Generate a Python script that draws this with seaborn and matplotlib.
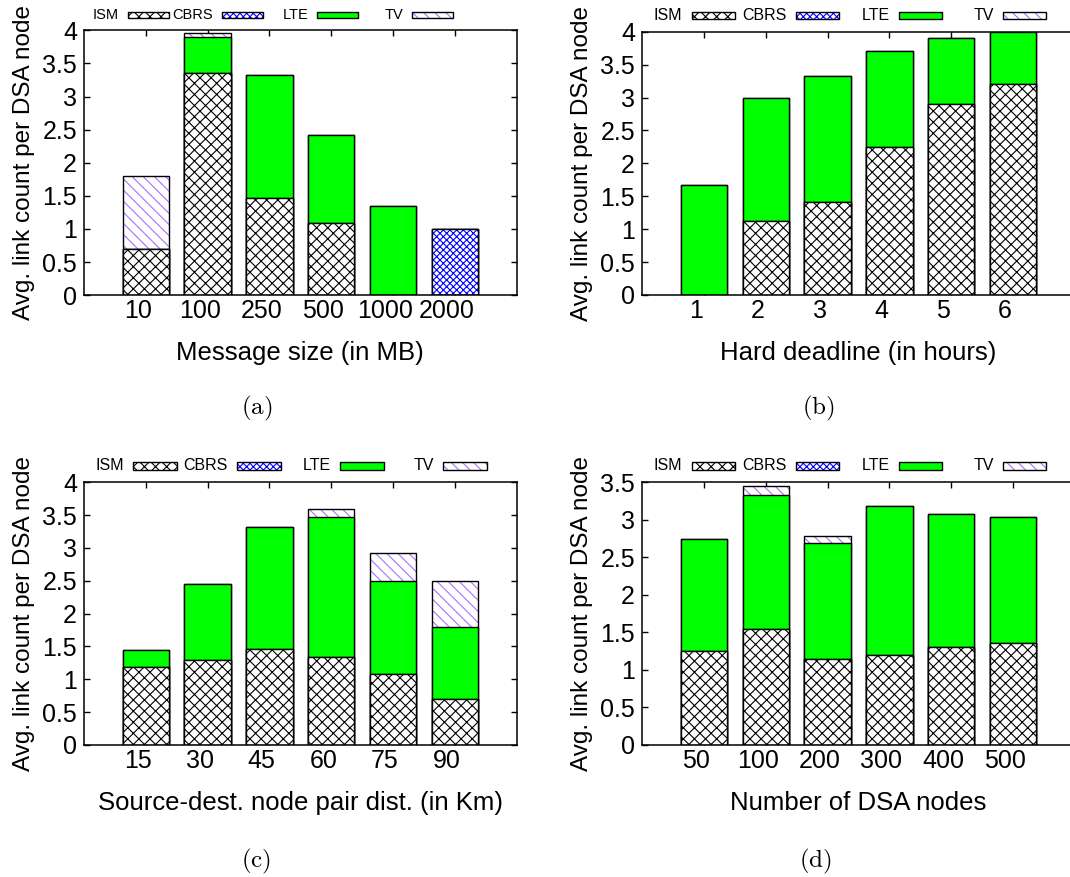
import numpy as np
import pandas as pd
import matplotlib
matplotlib.use("Agg")
import matplotlib.pyplot as plt
import matplotlib.transforms as mtransforms
from matplotlib.patches import Rectangle
from matplotlib.ticker import MultipleLocator, FormatStrFormatter
import seaborn as sns

# ---------------- data ----------------
series_names = ["ISM", "CBRS", "LTE", "TV"]

a_cats = ["10", "100", "250", "500", "1000", "2000"]
a_ism = [0.70, 3.35, 1.47, 1.09, 0.00, 0.00]
a_cbrs = [0.00, 0.00, 0.00, 0.00, 0.00, 1.00]
a_lte = [0.00, 0.55, 1.85, 1.33, 1.34, 0.00]
a_tv = [1.10, 0.06, 0.00, 0.00, 0.00, 0.00]

b_cats = ["1", "2", "3", "4", "5", "6"]
b_ism = [0.00, 1.12, 1.42, 2.25, 2.90, 3.20]
b_cbrs = [0.00, 0.00, 0.00, 0.00, 0.00, 0.00]
b_lte = [1.67, 1.88, 1.90, 1.46, 1.00, 0.80]
b_tv = [0.00, 0.00, 0.00, 0.00, 0.00, 0.00]

c_cats = ["15", "30", "45", "60", "75", "90"]
c_ism = [1.19, 1.29, 1.465, 1.34, 1.075, 0.695]
c_cbrs = [0.00, 0.00, 0.00, 0.00, 0.00, 0.00]
c_lte = [0.255, 1.16, 1.855, 2.13, 1.42, 1.095]
c_tv = [0.00, 0.00, 0.00, 0.12, 0.425, 0.705]

d_cats = ["50", "100", "200", "300", "400", "500"]
d_ism = [1.25, 1.55, 1.15, 1.195, 1.30, 1.36]
d_cbrs = [0.00, 0.00, 0.00, 0.00, 0.00, 0.00]
d_lte = [1.50, 1.78, 1.54, 1.985, 1.78, 1.68]
d_tv = [0.00, 0.12, 0.10, 0.00, 0.00, 0.00]

xlabels = ["Message size (in MB)", "Hard deadline (in hours)",
           "Source-dest. node pair dist. (in Km)", "Number of DSA nodes"]
ylabel = "Avg. link count per DSA node"
captions = ["(a)", "(b)", "(c)", "(d)"]
ymaxes = [4.0, 4.0, 4.0, 3.5]

# ---------------- style ----------------
sns.set_theme(style="ticks")
plt.rcParams["font.family"] = ["Liberation Sans", "DejaVu Sans"]
plt.rcParams["mathtext.fontset"] = "cm"
plt.rcParams["hatch.linewidth"] = 0.8
plt.rcParams["text.color"] = "black"
plt.rcParams["axes.labelcolor"] = "black"

GREEN = "#00ff00"
BLUE = "#0000ff"
PURPLE = "#a970ff"
styles = {
    "ISM": dict(face="white", hatch="xxx", hcolor="black"),
    "CBRS": dict(face="white", hatch="xxxxx", hcolor=BLUE),
    "LTE": dict(face=GREEN, hatch=None, hcolor="black"),
    "TV": dict(face="white", hatch="\\\\\\", hcolor=PURPLE),
}

W, H = 1070, 877
fig = plt.figure(figsize=(W / 100, H / 100), dpi=100)

def add_axes_px(l, t, r, b):
    return fig.add_axes([l / W, 1 - b / H, (r - l) / W, (b - t) / H])

axes_px = [(84, 30.3, 516.7, 295.2), (642, 31.7, 1075, 295.0),
           (84, 482.3, 516.7, 745.0), (642, 482.3, 1075, 745.0)]
show_right = [True, False, True, False]
# legend layout per panel: swatch right edges (px from axes left), width, height, gap above axes, font
legend_px = [
    dict(rights=[85, 179, 274, 369], w=41, h=6.7, gap=12.0, fs=10.5),
    dict(rights=[93, 197, 300, 404], w=43.5, h=7.7, gap=12.4, fs=11.5),
    dict(rights=[93, 197, 300, 403], w=44, h=8.0, gap=12.3, fs=11.5),
    dict(rights=[93, 197, 300, 404], w=43.5, h=8.0, gap=12.3, fs=11.5),
]
caption_px = [(257, 408), (818, 408), (256, 861), (815, 861)]

panels = [
    (a_cats, a_ism, a_cbrs, a_lte, a_tv),
    (b_cats, b_ism, b_cbrs, b_lte, b_tv),
    (c_cats, c_ism, c_cbrs, c_lte, c_tv),
    (d_cats, d_ism, d_cbrs, d_lte, d_tv),
]

BAR_W = 0.75
EDGE_LW = 1.0

def draw_layer(ax, cats, vals, st):
    df = pd.DataFrame({"cat": cats, "val": vals})
    if st["hatch"] is not None and st["hcolor"] != "black":
        sns.barplot(data=df, x="cat", y="val", order=cats, ax=ax, width=BAR_W,
                    errorbar=None, facecolor=st["face"], edgecolor=st["hcolor"],
                    hatch=st["hatch"], linewidth=0)
        sns.barplot(data=df, x="cat", y="val", order=cats, ax=ax, width=BAR_W,
                    errorbar=None, facecolor="none", edgecolor="black",
                    linewidth=EDGE_LW)
    else:
        kw = dict(facecolor=st["face"], edgecolor="black", linewidth=EDGE_LW)
        if st["hatch"]:
            kw["hatch"] = st["hatch"]
        sns.barplot(data=df, x="cat", y="val", order=cats, ax=ax, width=BAR_W,
                    errorbar=None, **kw)

for i, (cats, ism, cbrs, lte, tv) in enumerate(panels):
    ax = add_axes_px(*axes_px[i])
    ism = np.array(ism); cbrs = np.array(cbrs); lte = np.array(lte); tv = np.array(tv)
    c1 = ism
    c2 = c1 + cbrs
    c3 = c2 + lte
    c4 = c3 + tv
    # draw from the top of the stack down so lower segments overlay
    for name, vals in [("TV", c4), ("LTE", c3), ("CBRS", c2), ("ISM", c1)]:
        draw_layer(ax, cats, vals, styles[name])

    n = len(cats)
    ax.set_xlim(-1, n)
    ax.set_ylim(0, ymaxes[i])
    ax.set_xticks(range(n))
    ax.set_xticklabels(cats)
    ax.yaxis.set_major_locator(MultipleLocator(0.5))
    ax.yaxis.set_major_formatter(FormatStrFormatter("%g"))
    ax.tick_params(axis="both", direction="in", length=4, width=1.0,
                   colors="black", labelsize=18, top=True, right=show_right[i],
                   bottom=True, left=True)
    ax.tick_params(axis="x", pad=3)
    ax.tick_params(axis="y", pad=5)
    for s in ax.spines.values():
        s.set_color("black")
        s.set_linewidth(1.1)
        s.set_zorder(5)
    ax.set_xlabel(xlabels[i], fontsize=18.5)
    ax.set_ylabel(ylabel, fontsize=17.5)
    l, t, r, b = axes_px[i]
    ax.xaxis.set_label_coords(0.5, -(341 - 295.2) / (b - t))
    ax.yaxis.set_label_coords(-49 / (r - l), 0.5)

    # shift x tick labels slightly left (as in reference)
    off = mtransforms.ScaledTranslation(-8 / 100, 0, fig.dpi_scale_trans)
    for lab in ax.get_xticklabels():
        lab.set_transform(lab.get_transform() + off)

    # legend (gnuplot-style: label then swatch, above the plot)
    lp = legend_px[i]
    aw, ah = r - l, b - t
    for k, name in enumerate(series_names):
        st = styles[name]
        x0 = (lp["rights"][k] - lp["w"]) / aw
        y0 = 1 + lp["gap"] / ah
        ww = lp["w"] / aw
        hh = lp["h"] / ah
        if st["hatch"] is not None and st["hcolor"] != "black":
            ax.add_patch(Rectangle((x0, y0), ww, hh, transform=ax.transAxes,
                                   facecolor=st["face"], edgecolor=st["hcolor"],
                                   hatch=st["hatch"], linewidth=0, clip_on=False))
            ax.add_patch(Rectangle((x0, y0), ww, hh, transform=ax.transAxes,
                                   facecolor="none", edgecolor="black",
                                   linewidth=EDGE_LW, clip_on=False))
        else:
            kw = dict(facecolor=st["face"], edgecolor="black", linewidth=EDGE_LW)
            if st["hatch"]:
                kw["hatch"] = st["hatch"]
            ax.add_patch(Rectangle((x0, y0), ww, hh, transform=ax.transAxes,
                                   clip_on=False, **kw))
        ax.text(x0 - 9 / aw, y0 + hh / 2, name, transform=ax.transAxes,
                ha="right", va="center", fontsize=lp["fs"], color="black")

    cx, cy = caption_px[i]
    fig.text(cx / W, 1 - cy / H, r"$\mathrm{" + captions[i] + "}$",
             ha="center", va="center", fontsize=18, color="black")

fig.savefig("out.png", dpi=100)
